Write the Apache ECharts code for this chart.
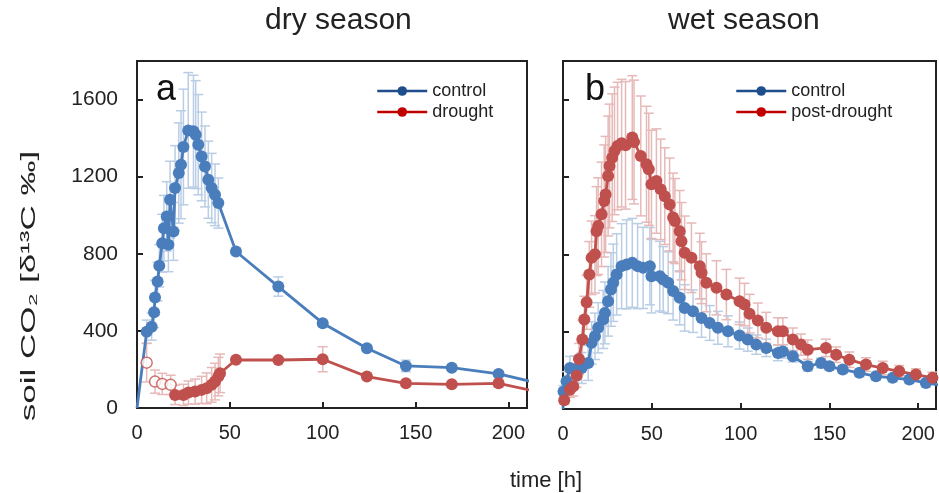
<!DOCTYPE html>
<html>
<head>
<meta charset="utf-8">
<script src="https://cdn.jsdelivr.net/npm/echarts@6/dist/echarts.min.js"></script>
<style>
  html, body { margin: 0; padding: 0; background: #fff; }
  #main { width: 939px; height: 493px; }
</style>
</head>
<body>
<div id="main"></div>
<script>
// panel a: dry season
const dryControlX = [0, 5.2, 7.9, 9.2, 9.7, 11.1, 12, 13.6, 14.5, 16, 16.9, 17.8, 19.6, 20.5, 22.5, 23.7, 25, 27.6, 30.4, 31.6, 33, 34.8, 36.6, 38.4, 40.2, 42, 43.8, 53.3, 76.1, 100, 123.8, 144.8, 169.5, 194.7, 220];
const dryControlY = [0, 396, 422, 497, 573, 656, 738, 855, 933, 994, 847, 1080, 916, 1141, 1219, 1262, 1354, 1440, 1436, 1418, 1366, 1305, 1253, 1184, 1141, 1106, 1063, 812, 630, 440, 310, 218, 209, 177, 120];
const dryControlErr = [0, 60, 70, 80, 90, 100, 110, 150, 170, 180, 140, 200, 150, 220, 260, 280, 300, 300, 290, 280, 260, 230, 210, 200, 180, 160, 130, 15, 50, 15, 15, 30, 15, 15, 0];

const dryEarlyX = [5.2, 9.7, 13.6, 18.1];
const dryEarlyY = [235, 137, 125, 120];
const dryEarlyErr = [100, 60, 55, 50];

const dryDroughtX = [20.5, 25, 27.7, 31.3, 34.8, 37.5, 40.2, 42, 43.8, 44.7, 53.3, 76.1, 100, 123.8, 144.8, 169.5, 194.7, 220];
const dryDroughtY = [68, 68, 80, 85, 94, 102, 120, 137, 163, 180, 250, 249, 253, 163, 128, 123, 128, 75];
const dryDroughtErr = [50, 55, 60, 65, 70, 80, 90, 95, 100, 100, 10, 10, 65, 10, 15, 10, 20, 0];

// panel b: wet season
const wetControlX = [0, 0.3, 2, 3.9, 6.7, 10.5, 14.2, 16.1, 18, 19.8, 22.6, 23.6, 25.4, 27, 28.3, 30.2, 33, 35.8, 39, 42, 45.1, 48.9, 49.8, 54.5, 56.4, 59.2, 62, 65.7, 68.5, 73.2, 78, 82.6, 87.2, 92.9, 99.4, 104, 108.8, 114.4, 121, 123.8, 129.4, 137.8, 145.3, 150, 157.5, 166.9, 176.2, 185.6, 195, 204.3, 214];
const wetControlY = [0, 91, 143, 212, 204, 212, 238, 342, 376, 420, 463, 497, 557, 618, 653, 696, 739, 748, 756, 739, 730, 739, 687, 687, 670, 653, 610, 575, 523, 506, 471, 445, 420, 402, 380, 359, 333, 316, 290, 298, 273, 221, 238, 221, 204, 187, 169, 161, 152, 135, 120];
const wetControlErr = [0, 30, 50, 60, 70, 80, 90, 110, 120, 130, 150, 160, 180, 190, 200, 210, 220, 230, 230, 220, 210, 200, 190, 180, 170, 160, 150, 140, 120, 110, 100, 90, 85, 80, 70, 60, 50, 45, 40, 35, 30, 25, 25, 20, 20, 20, 20, 20, 20, 20, 0];

const wetPostX = [0.7, 3.9, 5.8, 7.7, 9, 10.9, 12, 13.3, 14.8, 16.1, 18, 18.9, 19.8, 21.7, 23.2, 24, 25.4, 26.2, 27.7, 29, 30.7, 33, 35.2, 39, 40, 43.8, 47, 48.3, 49.8, 52.6, 55, 57.3, 60, 62, 63, 65.7, 66.7, 68.5, 72.3, 77, 78, 80.7, 86.4, 92, 99.4, 102.2, 105, 109.7, 114.4, 121, 123.8, 129.4, 134, 137.8, 148, 153.8, 161.2, 170.6, 180, 189.3, 198.7, 208, 214];
const wetPostY = [45, 100, 117, 172, 259, 359, 463, 552, 696, 782, 800, 920, 946, 1007, 1076, 1110, 1205, 1257, 1300, 1335, 1360, 1375, 1364, 1404, 1381, 1309, 1266, 1240, 1162, 1179, 1136, 1101, 1058, 990, 972, 920, 868, 808, 782, 739, 705, 653, 627, 592, 557, 540, 493, 458, 420, 402, 402, 359, 333, 307, 316, 281, 255, 230, 212, 195, 178, 161, 150];
const wetPostErr = [20, 40, 50, 60, 80, 100, 120, 140, 170, 190, 200, 230, 250, 270, 290, 300, 310, 320, 330, 330, 330, 330, 330, 320, 320, 310, 300, 290, 280, 270, 260, 250, 240, 230, 220, 210, 200, 190, 180, 170, 160, 150, 140, 130, 120, 110, 100, 90, 80, 70, 70, 60, 55, 50, 45, 40, 40, 35, 35, 30, 30, 30, 0];

const xTicks = [0, 50, 100, 150, 200];
const yTicks = [0, 400, 800, 1200, 1600];

const BLUE = '#4a7dbb', RED = '#c0504d';
const BLUE_ERR = '#b9cde5', RED_ERR = '#e6b9b8';
const FONT = '"Liberation Sans", Arial, sans-serif';

function pts(xs, ys) {
  return xs.map((x, i) => (x === 0 && ys[i] === 0) ? { value: [0, 0], symbol: 'none' } : [x, ys[i]]);
}
function errPts(xs, ys, es) {
  const out = [];
  xs.forEach((x, i) => { if (x <= 210 && es[i] > 0) out.push([x, ys[i], es[i]]); });
  return out;
}
function errSeries(idx, xs, ys, es, color) {
  return {
    type: 'custom', xAxisIndex: idx, yAxisIndex: idx, z: 1, silent: true,
    data: errPts(xs, ys, es),
    renderItem: function (params, api) {
      const x = api.value(0), y = api.value(1), e = api.value(2);
      const t = api.coord([x, y + e]);
      const b = api.coord([x, Math.max(0, y - e)]);
      const w = 5;
      const style = { stroke: color, lineWidth: 1.5 };
      return {
        type: 'group', children: [
          { type: 'line', shape: { x1: t[0], y1: t[1], x2: b[0], y2: b[1] }, style: style },
          { type: 'line', shape: { x1: t[0] - w, y1: t[1], x2: t[0] + w, y2: t[1] }, style: style },
          { type: 'line', shape: { x1: b[0] - w, y1: b[1], x2: b[0] + w, y2: b[1] }, style: style }
        ]
      };
    }
  };
}
function lineSeries(idx, name, xs, ys, color) {
  return {
    type: 'line', name: name, xAxisIndex: idx, yAxisIndex: idx, z: 3,
    data: pts(xs, ys), symbol: 'circle', symbolSize: 12, showAllSymbol: true,
    lineStyle: { color: color, width: 2.8 }, itemStyle: { color: color },
    animation: false, clip: true
  };
}

const xAxisBase = (idx) => ({
  type: 'value', gridIndex: idx, min: 0, max: 210, interval: 50,
  axisLine: { show: true, lineStyle: { color: '#222', width: 2 } },
  axisTick: { show: true, inside: true, length: 6, lineStyle: { color: '#222', width: 2 } },
  axisLabel: { fontSize: 20, color: '#222', fontFamily: FONT, margin: 15,
    formatter: v => xTicks.indexOf(v) >= 0 ? String(v) : '' },
  splitLine: { show: false }
});
const yAxisBase = (idx, labels) => ({
  type: 'value', gridIndex: idx, min: 0, max: 1800, interval: 400,
  axisLine: { show: true, lineStyle: { color: '#222', width: 2 } },
  axisTick: { show: true, inside: true, length: 6, lineStyle: { color: '#222', width: 2 } },
  axisLabel: { show: labels, fontSize: 21, color: '#222', fontFamily: FONT, margin: 19,
    formatter: v => yTicks.indexOf(v) >= 0 ? String(v) : '' },
  splitLine: { show: false }
});

const legendBase = (left, names) => ({
  orient: 'vertical', left: left, top: 77, itemWidth: 50, itemHeight: 12, itemGap: 3,
  textStyle: { fontSize: 18, color: '#222', fontFamily: FONT },
  data: names.map((n, i) => ({
    name: n,
    itemStyle: { color: i === 0 ? '#1f4e8c' : '#c00000' },
    lineStyle: { color: i === 0 ? '#1f4e8c' : '#c00000', width: 2.5 }
  }))
});

const chart = echarts.init(document.getElementById('main'));
chart.setOption({
  animation: false,
  backgroundColor: '#fff',
  grid: [
    { left: 137, right: 412, top: 61, bottom: 85, show: true, borderColor: '#222', borderWidth: 2 },
    { left: 563, right: 2, top: 61, bottom: 84, show: true, borderColor: '#222', borderWidth: 2 }
  ],
  xAxis: [xAxisBase(0), xAxisBase(1)],
  yAxis: [yAxisBase(0, true), yAxisBase(1, false)],
  legend: [legendBase(371, ['control', 'drought']), legendBase(730, ['control', 'post-drought'])],
  graphic: [
    { type: 'text', left: 265, top: 6, style: { text: 'dry season', fontSize: 30, fill: '#222', fontFamily: FONT } },
    { type: 'text', left: 668, top: 6, style: { text: 'wet season', fontSize: 30, fill: '#222', fontFamily: FONT } },
    { type: 'text', left: 156, top: 72, style: { text: 'a', fontSize: 36, fill: '#111', fontFamily: FONT } },
    { type: 'text', left: 585, top: 72, style: { text: 'b', fontSize: 36, fill: '#111', fontFamily: FONT } },
    { type: 'text', x: 546, y: 481,
      style: { text: 'time [h]', fontSize: 22, fill: '#222', fontFamily: FONT, textAlign: 'center', textVerticalAlign: 'middle' } },
    { type: 'text', x: 29, y: 286, rotation: Math.PI / 2, scaleX: 1.75,
      style: { text: 'soil CO₂ [δ¹³C ‰]', fontSize: 20, fill: '#222', fontFamily: FONT,
        textAlign: 'center', textVerticalAlign: 'middle' } }
  ],
  series: [
    errSeries(0, dryControlX, dryControlY, dryControlErr, BLUE_ERR),
    errSeries(0, dryEarlyX, dryEarlyY, dryEarlyErr, RED_ERR),
    errSeries(0, dryDroughtX, dryDroughtY, dryDroughtErr, RED_ERR),
    lineSeries(0, 'control', dryControlX, dryControlY, BLUE),
    lineSeries(0, 'drought', dryDroughtX, dryDroughtY, RED),
    {
      type: 'scatter', name: 'drought (early)', xAxisIndex: 0, yAxisIndex: 0, z: 3,
      data: dryEarlyX.map((x, i) => [x, dryEarlyY[i]]), symbol: 'circle', symbolSize: 11,
      itemStyle: { color: '#fff', borderColor: RED, borderWidth: 1.5 }
    },
    errSeries(1, wetControlX, wetControlY, wetControlErr, BLUE_ERR),
    errSeries(1, wetPostX, wetPostY, wetPostErr, RED_ERR),
    lineSeries(1, 'control', wetControlX, wetControlY, BLUE),
    lineSeries(1, 'post-drought', wetPostX, wetPostY, RED)
  ]
});
</script>
</body>
</html>
